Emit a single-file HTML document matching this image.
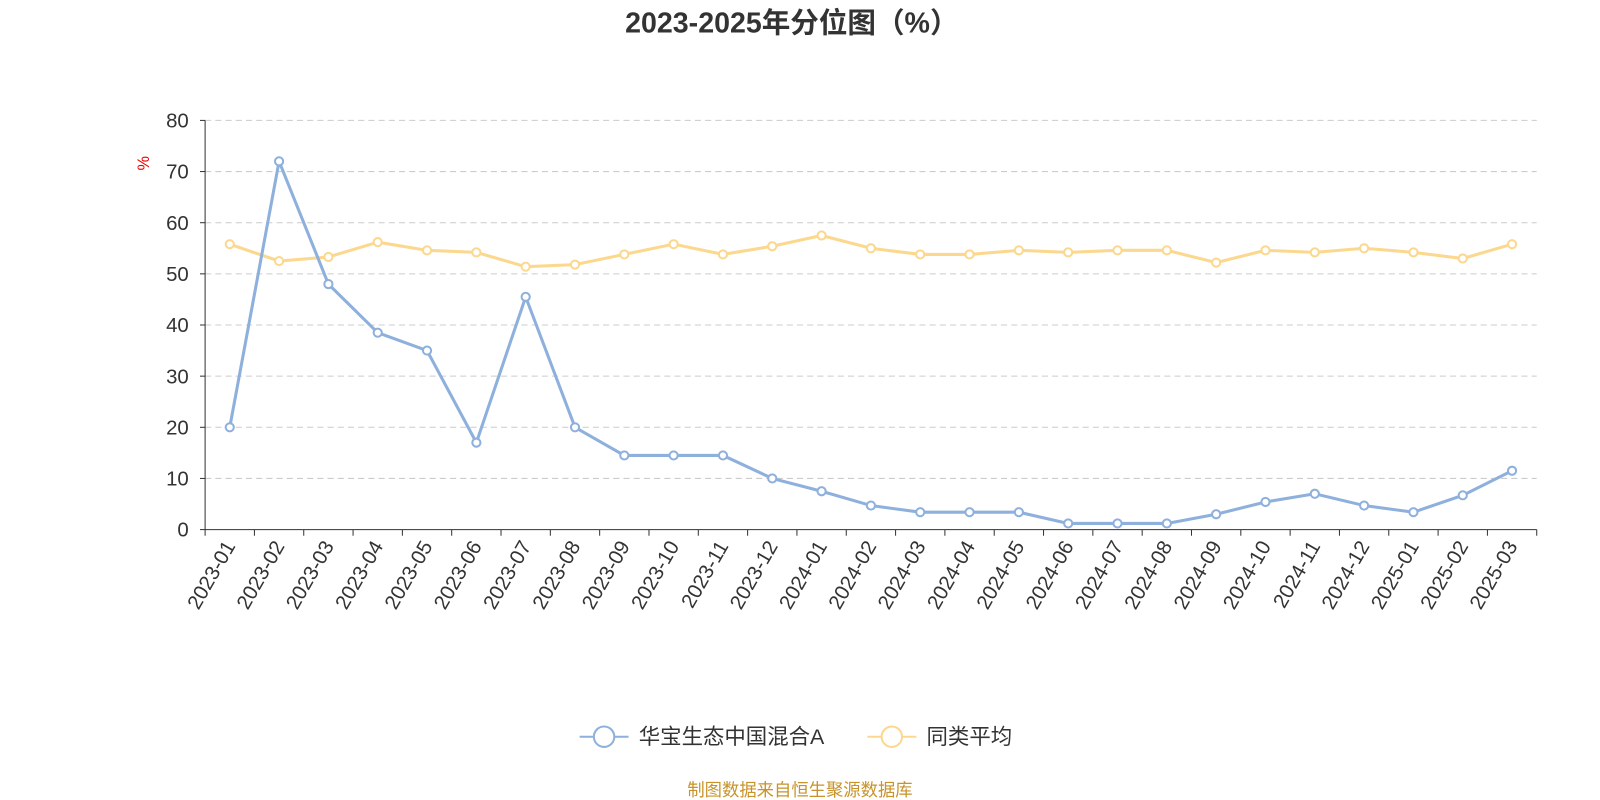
<!DOCTYPE html>
<html><head><meta charset="utf-8"><style>
body{margin:0;background:#fff;font-family:"Liberation Sans","Noto Sans CJK SC",sans-serif}
svg{display:block}
</style></head><body>
<svg id="chart" width="1600" height="800" viewBox="0 0 1568 784" xmlns="http://www.w3.org/2000/svg" font-family="Liberation Sans, Noto Sans CJK SC, sans-serif">
<text x="776" y="32" text-anchor="middle" font-size="28" font-weight="bold" fill="#333">2023-2025年分位图（%）</text>
<text x="146" y="160" font-size="16" fill="#e00" transform="rotate(-90 146 160)" text-anchor="middle">%</text>
<g id="grid"></g><g id="axes"></g><g id="series"></g>
<g>
<g>
<line x1="568" y1="722" x2="616" y2="722" stroke="#8eb0dc" stroke-width="2"/>
<circle cx="592" cy="722" r="10" fill="#fff" stroke="#8eb0dc" stroke-width="2"/>
<text x="626" y="729" font-size="21" fill="#333">华宝生态中国混合A</text></g>
<g>
<line x1="850" y1="722" x2="898" y2="722" stroke="#fcd88f" stroke-width="2"/>
<circle cx="874" cy="722" r="10" fill="#fff" stroke="#fcd88f" stroke-width="2"/>
<text x="908" y="729" font-size="21" fill="#333">同类平均</text></g>
</g>
<text x="784" y="780" text-anchor="middle" font-size="17" fill="#c8932a">制图数据来自恒生聚源数据库</text>
</svg>
<script>
const categories=["2023-01","2023-02","2023-03","2023-04","2023-05","2023-06","2023-07","2023-08","2023-09","2023-10","2023-11","2023-12","2024-01","2024-02","2024-03","2024-04","2024-05","2024-06","2024-07","2024-08","2024-09","2024-10","2024-11","2024-12","2025-01","2025-02","2025-03"];
const fundValues=[20,72,48,38.5,35,17,45.5,20,14.5,14.5,14.5,10,7.5,4.7,3.4,3.4,3.4,1.2,1.2,1.2,3,5.4,7,4.7,3.4,6.7,11.5];
const avgValues=[55.8,52.5,53.3,56.2,54.6,54.2,51.4,51.8,53.8,55.8,53.8,55.4,57.5,55,53.8,53.8,54.6,54.2,54.6,54.6,52.2,54.6,54.2,55,54.2,53,55.8];
const yTicks=[0,10,20,30,40,50,60,70,80];
const NS="http://www.w3.org/2000/svg";
const L=201,R=1506,T=118,B=519,yMax=80;
const step=(R-L)/categories.length;
const x=i=>L+step*(i+0.5);
const y=v=>B-(v/yMax)*(B-T);
function mk(tag,attrs,parent){const e=document.createElementNS(NS,tag);for(const k in attrs)e.setAttribute(k,attrs[k]);parent.appendChild(e);return e;}
const grid=document.getElementById('grid'),axes=document.getElementById('axes'),series=document.getElementById('series');
yTicks.forEach(t=>{
 if(t>0){const g=mk('line',{x1:L,x2:R,y1:y(t),y2:y(t),stroke:'#ccc','stroke-dasharray':'6,4'},grid);
 
 }
 const tx=mk('text',{x:L-16,y:y(t)+7,'text-anchor':'end','font-size':20,fill:'#333'},axes);tx.textContent=t;
 
 
 mk('line',{x1:L-5,x2:L,y1:y(t),y2:y(t),stroke:'#333'},axes);
});
const ya=mk('line',{x1:L,x2:L,y1:T,y2:B,stroke:'#333'},axes);


const xa=mk('line',{x1:L,x2:R,y1:B,y2:B,stroke:'#333'},axes);


for(let i=0;i<=categories.length;i++)mk('line',{x1:L+step*i,x2:L+step*i,y1:B,y2:B+6,stroke:'#333'},axes);
categories.forEach((c,i)=>{
 const px=x(i)+6,py=B+16;
 const t=mk('text',{x:px,y:py,'text-anchor':'end','font-size':20,fill:'#333',transform:`rotate(-60 ${px} ${py})`},axes);t.textContent=c;
 
 
});
function draw(vals,color,name){
 const p=mk('polyline',{points:vals.map((v,i)=>x(i)+','+y(v)).join(' '),fill:'none',stroke:color,'stroke-width':3},series);
 
 
 vals.forEach((v,i)=>{const c=mk('circle',{cx:x(i),cy:y(v),r:4,fill:'#fff',stroke:color,'stroke-width':2},series);
 
 });
}
draw(avgValues,'#fcd88f','category-average');
draw(fundValues,'#8eb0dc','fund');
</script>
</body></html>
